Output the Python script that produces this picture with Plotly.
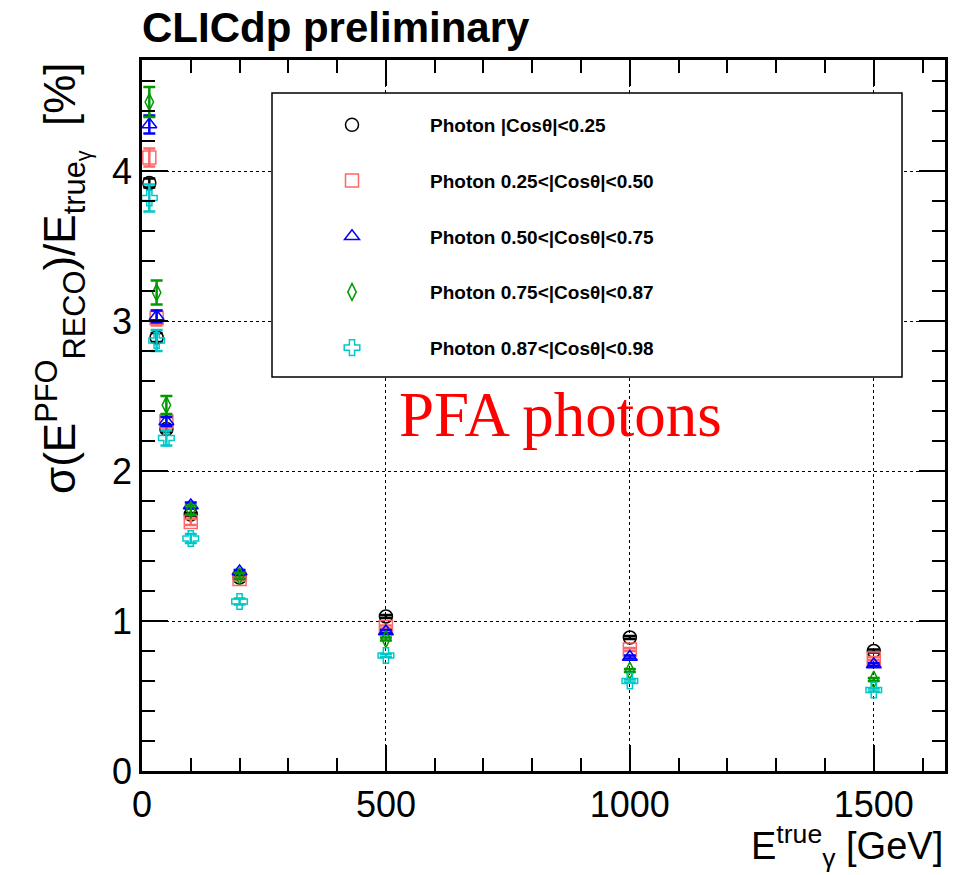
import plotly.graph_objects as go

energies = [15, 30, 50, 100, 200, 500, 1000, 1500]

res_c1 = [3.92, 2.89, 2.28, 1.71, 1.29, 1.03, 0.89, 0.80]
res_c2 = [4.09, 3.02, 2.33, 1.66, 1.28, 0.96, 0.81, 0.75]
res_c3 = [4.31, 3.03, 2.33, 1.77, 1.33, 0.93, 0.76, 0.71]
res_c4 = [4.46, 3.19, 2.44, 1.74, 1.30, 0.88, 0.67, 0.61]
res_c5 = [3.82, 2.87, 2.22, 1.55, 1.13, 0.77, 0.60, 0.54]

err_c1 = [0.03, 0.03, 0.02, 0.01, 0.01, 0.01, 0.01, 0.01]
err_c2 = [0.06, 0.05, 0.03, 0.02, 0.01, 0.01, 0.01, 0.01]
err_c3 = [0.06, 0.04, 0.03, 0.02, 0.01, 0.01, 0.01, 0.01]
err_c4 = [0.10, 0.08, 0.06, 0.03, 0.02, 0.01, 0.01, 0.01]
err_c5 = [0.09, 0.07, 0.05, 0.03, 0.02, 0.01, 0.01, 0.01]

labels = ["Photon |Cosθ|<0.25", "Photon 0.25<|Cosθ|<0.50", "Photon 0.50<|Cosθ|<0.75",
          "Photon 0.75<|Cosθ|<0.87", "Photon 0.87<|Cosθ|<0.98"]
colors = ["#000000", "#ff6666", "#0000ff", "#009900", "#00c8c8"]
symbols = ["circle-open", "square-open", "triangle-up-open", "diamond-tall-open", "cross-open"]
sizes = [13, 13, 13, 12, 13]

series = [res_c1, res_c2, res_c3, res_c4, res_c5]
errors = [err_c1, err_c2, err_c3, err_c4, err_c5]

fig = go.Figure()
for i in range(5):
    fig.add_trace(go.Scatter(
        x=energies, y=series[i], mode="markers", name=labels[i],
        legendgroup="g%d" % i,
        marker=dict(symbol=symbols[i], size=sizes[i], color=colors[i],
                    line=dict(color=colors[i], width=1.5)),
        error_y=dict(type="data", array=errors[i], color=colors[i], thickness=2.5, width=6),
    ))

font = "Liberation Sans, Arial, Helvetica, sans-serif"

axis_common = dict(
    showline=True, linecolor="black", linewidth=2.5, mirror="allticks",
    ticks="inside", ticklen=26, tickwidth=2, tickcolor="black",
    showgrid=True, gridcolor="black", griddash="dot", gridwidth=1,
    zeroline=False, tickfont=dict(family=font, size=36, color="black"),
)

fig.update_xaxes(range=[0, 1646], tickvals=[0, 500, 1000, 1500],
                 minor=dict(ticks="inside", ticklen=13, tickwidth=2, tickcolor="black", dtick=100, showgrid=False),
                 **axis_common)
fig.update_yaxes(range=[0, 4.74], tickvals=[0, 1, 2, 3, 4],
                 minor=dict(ticks="inside", ticklen=13, tickwidth=2, tickcolor="black", dtick=0.2, showgrid=False),
                 **axis_common)

fig.add_shape(type="rect", xref="paper", yref="paper",
              x0=(272 - 142) / 803, x1=(902 - 142) / 803,
              y0=(771 - 377) / 711, y1=(771 - 93) / 711,
              line=dict(color="black", width=1.5), fillcolor="white", layer="above")

fig.add_annotation(text="CLICdp preliminary", xref="paper", yref="paper",
                   x=-0.003, y=(771 - 28) / 711, xanchor="left", yanchor="middle",
                   showarrow=False, font=dict(family=font, size=42, color="black", weight="bold"))

fig.add_annotation(text="PFA photons", xref="paper", yref="paper",
                   x=(560 - 142) / 803, y=(771 - 415) / 711, xanchor="center", yanchor="middle",
                   showarrow=False, font=dict(family="Liberation Serif, Times New Roman, serif", size=63, color="#ff0000"))

fig.add_annotation(text="σ(E<sup>PFO</sup><sub>RECO</sub>)/E<sub>true<sub>γ</sub></sub>  [%]",
                   xref="paper", yref="paper", x=(62 - 142) / 803, y=1.0,
                   xanchor="center", yanchor="top", textangle=-90,
                   showarrow=False, font=dict(family=font, size=44, color="black"))

fig.add_annotation(text="E<sup>true</sup><sub>γ</sub> [GeV]", xref="paper", yref="paper",
                   x=1.0, y=(771 - 846) / 711, xanchor="right", yanchor="middle",
                   showarrow=False, font=dict(family=font, size=38, color="black"))

fig.update_layout(
    width=959, height=875,
    margin=dict(l=142, r=14, t=60, b=104),
    plot_bgcolor="white", paper_bgcolor="white",
    showlegend=True,
    legend=dict(x=(274 - 142) / 803, y=(771 - 106) / 711, xanchor="left", yanchor="top",
                bgcolor="rgba(0,0,0,0)", borderwidth=0, traceorder="grouped",
                tracegroupgap=28, itemwidth=146,
                font=dict(family=font, size=19, color="black", weight="bold")),
)

fig.write_html("out.html")
